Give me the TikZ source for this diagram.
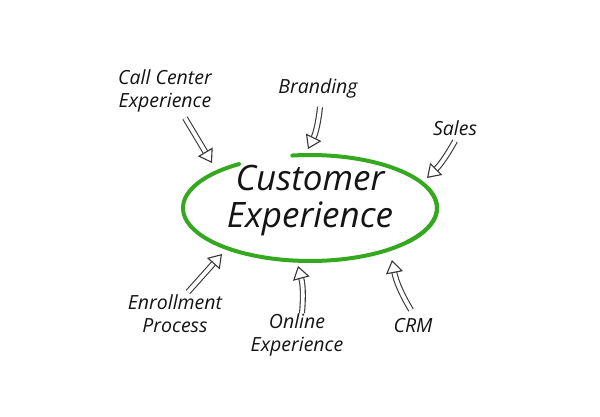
\documentclass[tikz,border=0pt]{standalone}
\usepackage{fontspec}
\setmainfont{Open Sans}
\usetikzlibrary{arrows.meta}
\definecolor{ringgreen}{RGB}{52,168,30}
\definecolor{ink}{RGB}{20,20,20}
\begin{document}
\begin{tikzpicture}[x=1pt,y=-1pt,
  lbl/.style={font=\fontsize{19.5}{23}\selectfont\itshape, text=ink, align=center, inner sep=0pt},
  big/.style={font=\fontsize{35}{37}\selectfont\itshape, text=ink, align=center, inner sep=0pt},
  harrow/.style={draw=ink!85, line width=1.1pt, double=white, double distance=3.8pt,
     -{Triangle[open, length=13pt, width=17pt, line width=1.1pt]}},
  ring/.style={draw=ringgreen, line width=4pt, line cap=round}]
\fill[white] (0,0) rectangle (600,416);
\useasboundingbox (0,0) rectangle (600,416);

% ring
\draw[ring] plot[domain=124:382, samples=90] ({310+127*cos(\x)},{208-53*sin(\x)});
\draw[ring] plot[domain=98:-40, samples=60] ({310+127*cos(\x)},{208-53*sin(\x)});

\node[big] (ce) at (310,201) {Customer\\Experience};

% labels
\node[lbl] (call) at (165,91) {Call Center\\Experience};
\node[lbl] (brand) at (318,88) {Branding};
\node[lbl] (sales) at (455,128) {Sales};
\node[lbl] (enrol) at (175,314) {Enrollment\\Process};
\node[lbl] (online) at (297,335) {Online\\Experience};
\node[lbl] (crm) at (413,326) {CRM};

% arrow endpoints
\coordinate (t1) at (212,163);
\coordinate (t2) at (308,149);
\coordinate (t3) at (427,178);
\coordinate (t4) at (222,254);
\coordinate (t5) at (298,266);
\coordinate (t6) at (392,260);

\draw[harrow] (185,118) -- (t1);
\draw[harrow] (320,107) to[bend left=10] (t2);
\draw[harrow] (455,141) to[bend left=8] (t3);
\draw[harrow] (188,292) -- (t4);
\draw[harrow] (302,313) to[bend right=10] (t5);
\draw[harrow] (411,310) to[bend left=10] (t6);
\end{tikzpicture}
\end{document}
